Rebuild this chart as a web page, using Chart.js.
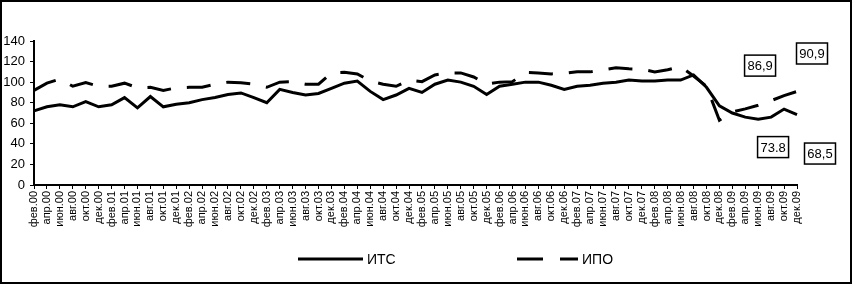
<!DOCTYPE html>
<html>
<head>
<meta charset="utf-8">
<script src="https://cdn.jsdelivr.net/npm/chart.js@4/dist/chart.umd.min.js"></script>
<style>
  html, body { margin: 0; padding: 0; background: #fff; }
  #wrap { width: 855px; height: 286px; position: relative; }
</style>
</head>
<body>
<div id="wrap"><canvas id="myChart"></canvas></div>
<script>
// bimonthly periods, 2000-2009
const periods = [
    "фев.00", "апр.00", "июн.00", "авг.00", "окт.00", "дек.00",
    "фев.01", "апр.01", "июн.01", "авг.01", "окт.01", "дек.01",
    "фев.02", "апр.02", "июн.02", "авг.02", "окт.02", "дек.02",
    "фев.03", "апр.03", "июн.03", "авг.03", "окт.03", "дек.03",
    "фев.04", "апр.04", "июн.04", "авг.04", "окт.04", "дек.04",
    "фев.05", "апр.05", "июн.05", "авг.05", "окт.05", "дек.05",
    "фев.06", "апр.06", "июн.06", "авг.06", "окт.06", "дек.06",
    "фев.07", "апр.07", "июн.07", "авг.07", "окт.07", "дек.07",
    "фев.08", "апр.08", "июн.08", "авг.08", "окт.08", "дек.08",
    "фев.09", "апр.09", "июн.09", "авг.09", "окт.09", "дек.09"
];

const its = [
    72, 76, 78, 76, 81, 76,
    78, 85, 75, 86, 76, 78.5,
    80, 83, 85, 88, 89.5, 85,
    80, 93, 90, 87.5, 89, 94,
    99, 101, 91, 83, 87.5, 94,
    90, 98, 102, 100, 96, 88,
    96, 98, 100, 100, 97, 93,
    96, 97, 99, 100, 102, 101,
    101, 102, 102, 107, 95, 77,
    70, 66, 64, 66, 73.8, 68.5
];

const ipo = [
    92, 99, 103, 96, 99.5, 96,
    96, 99, 94.5, 95, 92, 94.5,
    95, 95, 98, 100, 99.5, 98,
    95, 100, 100.5, 98, 98, 109,
    109.5, 108, 101, 98, 96, 102,
    100.5, 107, 109, 109, 105, 98,
    100, 100.5, 109.5, 109, 108, 108.5,
    110, 110, 112, 114, 113, 112.5,
    110, 112, 115, 106, 96, 63,
    71, 74, 77.5, 82, 86.9, 90.9
];

const seriesNames = ["ИТС", "ИПО"];

// boxed value labels: dataset, index, text as printed, offset from point
const boxDataset = [1, 1, 0, 0];
const boxIndex = [58, 59, 58, 59];
const boxText = ["86,9", "90,9", "73.8", "68,5"];
const boxDx = [-24, 15, -11, 23];
const boxDy = [-30, -38, 38, 39];

const FONT = "'Liberation Sans', Arial, sans-serif";

const extras = {
    id: "extras",
    afterDraw(chart) {
        const ctx = chart.ctx;
        ctx.save();

        // value boxes
        ctx.font = "13px " + FONT;
        ctx.textAlign = "center";
        ctx.textBaseline = "middle";
        boxText.forEach(function (txt, i) {
            const pt = chart.getDatasetMeta(boxDataset[i]).data[boxIndex[i]];
            const cx = pt.x + boxDx[i];
            const cy = pt.y + boxDy[i];
            const w = 31, h = 21;
            ctx.fillStyle = "#fff";
            ctx.fillRect(cx - w / 2, cy - h / 2, w, h);
            ctx.lineWidth = 1.5;
            ctx.strokeStyle = "#000";
            ctx.setLineDash([]);
            ctx.strokeRect(cx - w / 2, cy - h / 2, w, h);
            ctx.fillStyle = "#000";
            ctx.fillText(txt, cx, cy + 1);
        });

        // legend
        const ly = 259;
        ctx.font = "14px " + FONT;
        ctx.textAlign = "left";
        ctx.lineWidth = 3;
        ctx.strokeStyle = "#000";
        ctx.fillStyle = "#000";

        ctx.setLineDash([]);
        ctx.beginPath();
        ctx.moveTo(298, ly);
        ctx.lineTo(363, ly);
        ctx.stroke();
        ctx.fillText(seriesNames[0], 367, ly + 1);

        ctx.setLineDash([26, 17]);
        ctx.beginPath();
        ctx.moveTo(517, ly);
        ctx.lineTo(578, ly);
        ctx.stroke();
        ctx.fillText(seriesNames[1], 582, ly + 1);

        // outer frame
        ctx.setLineDash([]);
        ctx.lineWidth = 2;
        ctx.strokeRect(1, 1, 850, 282);

        ctx.restore();
    }
};

const ctx1 = document.getElementById("myChart");

new Chart(ctx1, {
    type: "line",
    data: {
        labels: periods,
        datasets: [
            {
                label: seriesNames[0],
                data: its,
                borderColor: "#000",
                borderWidth: 3,
                pointRadius: 0,
                tension: 0,
            },
            {
                label: seriesNames[1],
                data: ipo,
                borderColor: "#000",
                borderWidth: 3,
                borderDash: [24, 16],
                pointRadius: 0,
                tension: 0,
            },
        ],
    },
    options: {
        responsive: true,
        maintainAspectRatio: false,
        animation: false,
        layout: {
            padding: { left: 0, top: 41, right: 58, bottom: 0 },
        },
        plugins: {
            legend: { display: false },
            tooltip: { enabled: false },
        },
        scales: {
            x: {
                offset: false,
                grid: { drawOnChartArea: false, tickLength: 4, color: "#000" },
                border: { color: "#000", width: 2 },
                ticks: {
                    autoSkip: false,
                    maxRotation: 90,
                    minRotation: 90,
                    padding: 2,
                    color: "#000",
                    font: { size: 11, family: FONT },
                },
                afterFit: function (scale) {
                    scale.height = 101;
                },
            },
            y: {
                min: 0,
                max: 140,
                grid: { drawOnChartArea: false, tickLength: 4, color: "#000" },
                border: { color: "#000", width: 2 },
                ticks: {
                    stepSize: 20,
                    padding: 5,
                    color: "#000",
                    font: { size: 13, family: FONT },
                },
                afterFit: function (scale) {
                    scale.width = 34;
                },
            },
        },
    },
    plugins: [extras],
});
</script>
</body>
</html>
